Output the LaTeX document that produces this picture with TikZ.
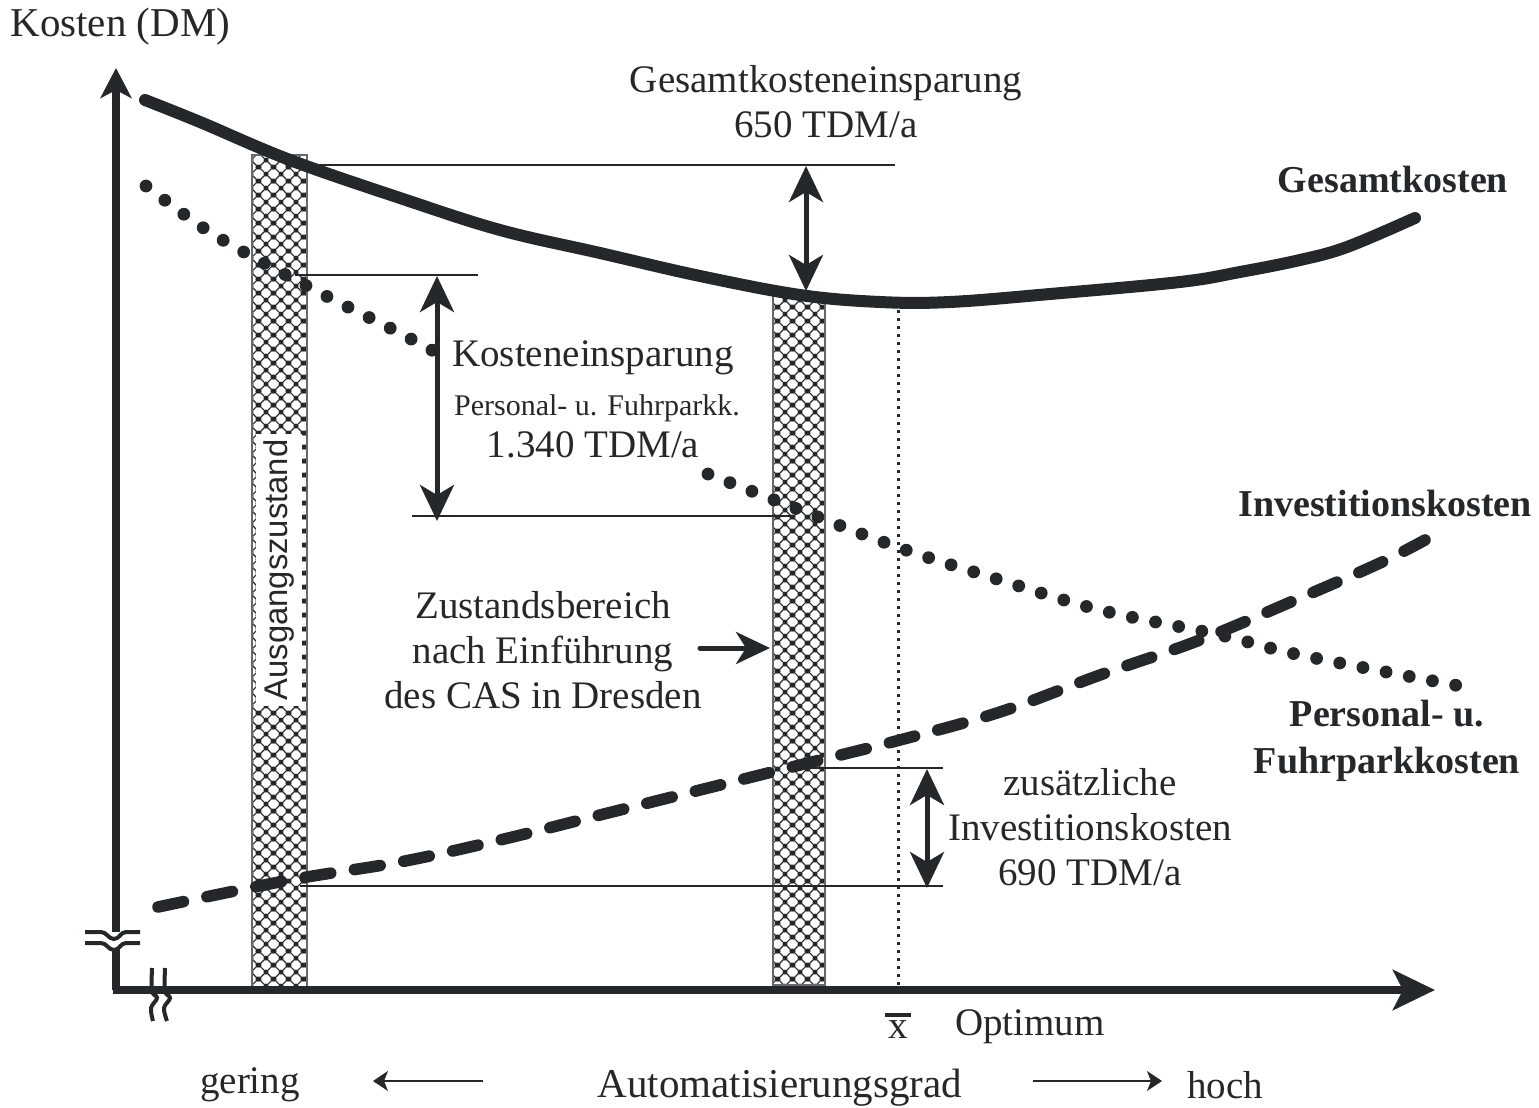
\documentclass[tikz,border=0pt]{standalone}
\usepackage{fontspec}
\setmainfont{Liberation Serif}
\setsansfont{Liberation Sans}
\usetikzlibrary{arrows.meta,patterns.meta}

\definecolor{ink}{RGB}{36,40,42}

% diagonal lattice with dots at the crossings, used for the state bands
\tikzdeclarepattern{
  name=lattice,
  type=uncolored,
  bounding box={(0pt,0pt) and (7.2pt,7.2pt)},
  tile size={(7.2pt,7.2pt)},
  code={
    \draw[line width=0.6pt] (0pt,0pt) -- (7.2pt,7.2pt) (0pt,7.2pt) -- (7.2pt,0pt);
    \fill (3.6pt,3.6pt) circle (1.3pt);
    \fill (0pt,0pt) circle (1.3pt) (7.2pt,0pt) circle (1.3pt)
          (0pt,7.2pt) circle (1.3pt) (7.2pt,7.2pt) circle (1.3pt);
  }
}

\begin{document}
\begin{tikzpicture}[x=0.5pt,y=-0.5pt,
  every node/.style={text=ink},
  lbl/.style={font=\fontsize{19.5}{22.5}\selectfont, align=center, inner sep=0pt},
  boldlbl/.style={font=\fontsize{19}{23.5}\selectfont\bfseries, align=center, inner sep=0pt},
  band/.style={draw=ink!70, line width=0.6pt, pattern=lattice, pattern color=ink},
  guide/.style={draw=ink, line width=0.75pt},
  dimarrow/.style={draw=ink, line width=2.5pt,
     {Stealth[length=18pt,width=17pt,inset=5pt]}-{Stealth[length=18pt,width=17pt,inset=5pt]}},
  pointer/.style={draw=ink, line width=2.5pt, line cap=round,
     -{Stealth[length=17pt,width=16pt,inset=5pt]}},
  thinarrow/.style={draw=ink, line width=0.6pt, -{Stealth[length=7.5pt,width=10pt,inset=2pt]}},
  axisline/.style={draw=ink, line width=4pt},
  breakmark/.style={draw=ink, line width=2pt},
  totalcurve/.style={draw=ink, line width=6pt, line cap=round, line join=round},
  staffcurve/.style={draw=ink, line width=6.4pt, line cap=round, dash pattern=on 0pt off 11.8pt},
  investcurve/.style={draw=ink, line width=5.8pt, line cap=round, dash pattern=on 13pt off 12pt},
]
\useasboundingbox (0,0) rectangle (1539,1108);

% state bands
\path[band] (252,155) rectangle (307,988);
\path[band] (773,295) rectangle (825,985);
\node[fill=white, rotate=90, font=\sffamily\fontsize{16.4}{18}\selectfont,
      inner xsep=3pt, inner ysep=4pt] (start) at (279,570) {Ausgangszustand};

% guide lines for the dimension arrows
\coordinate (g1a) at (300,165);  \coordinate (g1b) at (895,165);
\coordinate (g2a) at (295,275);  \coordinate (g2b) at (478,275);
\coordinate (g3a) at (412,516);  \coordinate (g3b) at (792,516);
\coordinate (g4a) at (800,768);  \coordinate (g4b) at (943,768);
\coordinate (g5a) at (300,886);  \coordinate (g5b) at (943,886);
\draw[guide] (g1a) -- (g1b);
\draw[guide] (g2a) -- (g2b);
\draw[guide] (g3a) -- (g3b);
\draw[guide] (g4a) -- (g4b);
\draw[guide] (g5a) -- (g5b);

% optimum marker
\coordinate (optTop) at (898,302);
\coordinate (optBot) at (898,988);
\draw[draw=ink, line width=1.5pt, dash pattern=on 1.5pt off 2.5pt] (optTop) -- (optBot);

% cost curves
\draw[totalcurve] plot[smooth, tension=0.6] coordinates {
  (145,100) (200,122) (290,160) (400,198) (500,230) (600,253) (700,276)
  (800,295) (880,302) (950,302) (1050,294) (1180,282) (1240,272)
  (1300,260) (1347,247) (1415,218)};
% personnel and fleet costs: interrupted where the savings label stands
\draw[staffcurve] plot[smooth, tension=0.6] coordinates {
  (146,186) (205,229) (262,262) (330,298) (390,328) (441,355)};
\draw[staffcurve] plot[smooth, tension=0.6] coordinates {
  (708,474) (800,510) (900,548) (1000,580) (1100,610) (1220,635) (1300,655) (1460,686)};
\draw[investcurve] plot[smooth, tension=0.6] coordinates {
  (158,907) (290,880) (400,862) (500,840) (600,815) (700,790) (800,765)
  (900,740) (1000,712) (1100,675) (1200,640) (1300,598) (1380,563) (1425,540)};

% dimension arrows
\coordinate (d1a) at (806,166); \coordinate (d1b) at (806,291);
\coordinate (d2a) at (437,276); \coordinate (d2b) at (437,521);
\coordinate (d3a) at (927,769); \coordinate (d3b) at (927,888);
\draw[dimarrow] (d1a) -- (d1b);
\draw[dimarrow] (d2a) -- (d2b);
\draw[dimarrow] (d3a) -- (d3b);

% axes with break marks
\coordinate (origin) at (113,990);
\coordinate (yTip) at (116,68);
\coordinate (xTip) at (1435,990);
\draw[axisline, -{Stealth[length=15pt,width=15.5pt,inset=4pt]}] (116,932) -- (yTip);
\draw[axisline] (origin) -- (116,990) -- (116,948);
\draw[axisline, -{Stealth[length=21pt,width=20pt,inset=5pt]}] (origin) -- (xTip);
\draw[breakmark] (85,932) -- (101,932) to[out=0,in=180] (114,939) to[out=0,in=180] (126,932) -- (140,932);
\draw[breakmark] (85,943) -- (101,943) to[out=0,in=180] (114,950) to[out=0,in=180] (126,943) -- (140,943);
\draw[breakmark] plot[smooth, tension=0.6] coordinates {(152,968) (152,991) (157,998) (151,1008) (153,1021)};
\draw[breakmark] plot[smooth, tension=0.6] coordinates {(165,968) (165,991) (170,998) (164,1008) (167,1021)};

% labels
\node[lbl, anchor=west, font=\fontsize{20.5}{24}\selectfont] (ylabel) at (10,27) {Kosten (DM)};
\node[lbl] (saving) at (826,102) {Gesamtkosteneinsparung\\650 TDM/a};
\node[boldlbl] (total) at (1393,180) {Gesamtkosten};
\node[lbl] (staffsave) at (593,358) {Kosteneinsparung};
\node[lbl, font=\fontsize{15}{18}\selectfont] (staffsub) at (597,408) {Personal- u. Fuhrparkk.};
\node[lbl] (staffval) at (593,445) {1.340 TDM/a};
\node[boldlbl] (invest) at (1385,503) {Investitionskosten};
\node[boldlbl] (staff) at (1387,741) {Personal- u.\\Fuhrparkkosten};
\node[lbl] (zone) at (543,650) {Zustandsbereich\\nach Einführung\\des CAS in Dresden};
\coordinate (zoneTip) at (770,648);
\draw[pointer] (700,648) -- (zoneTip);
\node[lbl] (extra) at (1090,827) {zusätzliche\\Investitionskosten\\690 TDM/a};
% mean value symbol: x with a heavy bar
\node[lbl] (xbar) at (898,1030) {x};
\draw[draw=ink, line width=2pt] ([xshift=-1.5pt,yshift=3pt]xbar.north west) -- ([xshift=1.5pt,yshift=3pt]xbar.north east);
\node[lbl] (optimum) at (1030,1027) {Optimum};
\node[lbl] (low) at (250,1085) {gering};
\node[lbl, font=\fontsize{20.5}{24}\selectfont] (degree) at (780,1088) {Automatisierungsgrad};
\node[lbl] (high) at (1225,1085) {hoch};
\coordinate (lowTip) at (373,1081);
\coordinate (highTip) at (1162,1081);
\draw[thinarrow] (483,1081) -- (lowTip);
\draw[thinarrow] (1033,1081) -- (highTip);
\end{tikzpicture}
\end{document}
